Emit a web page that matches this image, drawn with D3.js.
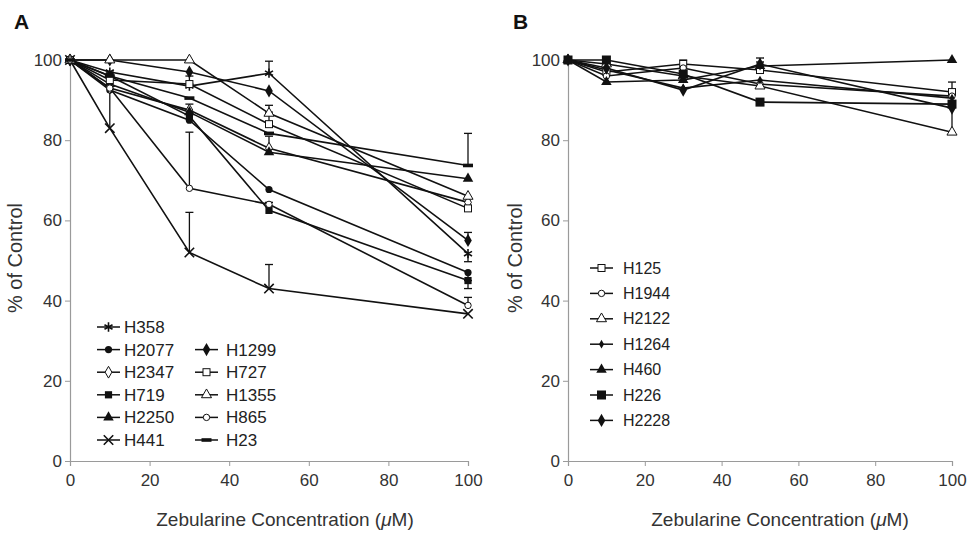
<!DOCTYPE html>
<html>
<head>
<meta charset="utf-8">
<script src="https://cdn.jsdelivr.net/npm/d3@7"></script>
<style>
  body { margin: 0; background: #fff; }
  svg { font-family: "Liberation Sans", Arial, sans-serif; }
</style>
</head>
<body>
<div id="chart"></div>
<script>
// zebularine concentrations (uM) used for every cell line
const concentrations = [0, 10, 30, 50, 100];
const xTicks = [0, 20, 40, 60, 80, 100];
const yTicks = [0, 20, 40, 60, 80, 100];

// panel A: sensitive lines
const namesA = ["H358", "H2077", "H2347", "H719", "H2250", "H441",
  "H1299", "H727", "H1355", "H865", "H23"];
const valuesA = [
  [100, 97, 93.5, 96.7, 51.7],
  [100, 92.5, 85, 67.7, 47],
  [100, 93, 87.5, 78, 64.5],
  [100, 96, 86, 62.5, 45],
  [100, 94, 87, 77, 70.4],
  [100, 83, 52, 43, 36.7],
  [100, 100, 97, 92.3, 55],
  [100, 95, 94, 84, 63],
  [100, 100, 100, 86.7, 66],
  [100, 93, 68, 64, 38.8],
  [100, 96, 90.5, 81.7, 73.7],
];
// one-sided error bars, + is up, - is down
const errorsA = [
  [0, 0, 0, 3, -2],
  [0, 0, 0, 0, -2],
  [0, 0, 0, 3, 0],
  [0, 0, 0, 2, -2],
  [0, 0, 2, 0, 0],
  [0, 14, 10, 6, 0],
  [0, 0, 0, 0, 2],
  [0, 0, 2, 3, 0],
  [0, 0, 0, 2, 0],
  [0, 0, 14, 0, 2],
  [0, 0, 0, 0, 8],
];

// panel B: resistant lines
const namesB = ["H125", "H1944", "H2122", "H1264", "H460", "H226", "H2228"];
const valuesB = [
  [100, 97, 99, 97.5, 92],
  [100, 96, 98, 94, 91],
  [100, 99, 96, 93.5, 82],
  [100, 97.5, 93, 95, 90.5],
  [100, 94.5, 95, 98.5, 100],
  [100, 100, 96.5, 89.5, 89],
  [100, 98, 92.5, 99, 88],
];
const errorsB = [
  [0, 0, 1, 2, 0],
  [0, 0, 0, 0, 0],
  [0, 0, 0, 0, 7],
  [0, 0, 0, 0, 4],
  [0, 0, 0, 0, 0],
  [0, 0, 0, 0, 0],
  [0, 0, 0, 1.5, 0],
];

const markerOf = {
  H358: "asterisk", H2077: "circle", H2347: "diamondOpen", H719: "square",
  H2250: "triangle", H441: "times", H1299: "diamond", H727: "squareOpen",
  H1355: "triangleOpen", H865: "circleOpen", H23: "dash",
  H125: "squareOpen", H1944: "circleOpen", H2122: "triangleOpen",
  H1264: "dot", H460: "triangle", H226: "squareBig", H2228: "diamond",
};

const width = 972, height = 537;

const svg = d3.select("#chart").append("svg")
  .attr("width", width)
  .attr("height", height);

function drawMarker(g, kind) {
  switch (kind) {
    case "asterisk":
      g.append("path").attr("d", d3.symbol(d3.symbolAsterisk, 60)())
        .attr("fill", "none").attr("stroke", "#111").attr("stroke-width", 1.6);
      break;
    case "times":
      g.append("path").attr("d", d3.symbol(d3.symbolTimes, 60)())
        .attr("fill", "none").attr("stroke", "#111").attr("stroke-width", 1.6);
      break;
    case "circle":
      g.append("circle").attr("r", 3.6).attr("fill", "#111");
      break;
    case "circleOpen":
      g.append("circle").attr("r", 3.2).attr("fill", "#fff")
        .attr("stroke", "#111").attr("stroke-width", 1);
      break;
    case "dot":
      g.append("path").attr("d", d3.symbol(d3.symbolDiamond, 22)()).attr("fill", "#111");
      break;
    case "square":
      g.append("rect").attr("x", -3.6).attr("y", -3.6).attr("width", 7.2).attr("height", 7.2)
        .attr("fill", "#111");
      break;
    case "squareBig":
      g.append("rect").attr("x", -4.5).attr("y", -4.5).attr("width", 9).attr("height", 9)
        .attr("fill", "#111");
      break;
    case "squareOpen":
      g.append("rect").attr("x", -3.5).attr("y", -3.5).attr("width", 7).attr("height", 7)
        .attr("fill", "#fff").attr("stroke", "#111").attr("stroke-width", 1);
      break;
    case "triangle":
      g.append("path").attr("d", d3.symbol(d3.symbolTriangle, 48)()).attr("fill", "#111");
      break;
    case "triangleOpen":
      g.append("path").attr("d", d3.symbol(d3.symbolTriangle, 44)())
        .attr("fill", "#fff").attr("stroke", "#111").attr("stroke-width", 1);
      break;
    case "diamond":
      g.append("path").attr("d", d3.symbol(d3.symbolDiamond, 50)()).attr("fill", "#111");
      break;
    case "diamondOpen":
      g.append("path").attr("d", d3.symbol(d3.symbolDiamond, 40)())
        .attr("fill", "#fff").attr("stroke", "#111").attr("stroke-width", 1);
      break;
    case "dash":
      g.append("rect").attr("x", -5).attr("y", -1.8).attr("width", 10).attr("height", 3.6)
        .attr("fill", "#111");
      break;
  }
}

function drawPanel(p) {
  const x = d3.scaleLinear().domain([0, 100]).range([p.left, p.right]);
  const y = d3.scaleLinear().domain([0, 100]).range([461, 60]);

  const g = svg.append("g");

  // axes
  const xAxis = d3.axisBottom(x).tickValues(xTicks).tickSize(5).tickPadding(8);
  const yAxis = d3.axisLeft(y).tickValues(yTicks).tickSize(5).tickPadding(3);

  g.append("g").attr("transform", `translate(0,${y(0)})`).call(xAxis)
    .call((a) => a.select(".domain").attr("stroke", "#9a9a9a").attr("stroke-width", 1.2))
    .call((a) => a.selectAll(".tick line").attr("stroke", "#9a9a9a"))
    .call((a) => a.selectAll(".tick text").attr("fill", "#333").style("font-size", "17px"));

  g.append("g").attr("transform", `translate(${x(0)},0)`).call(yAxis)
    .call((a) => a.select(".domain").attr("stroke", "#9a9a9a").attr("stroke-width", 1.2))
    .call((a) => a.selectAll(".tick line").attr("stroke", "#9a9a9a"))
    .call((a) => a.selectAll(".tick text").attr("fill", "#333").style("font-size", "17px"));

  // titles
  g.append("text")
    .attr("x", p.xTitleX).attr("y", 526)
    .attr("text-anchor", "middle")
    .attr("fill", "#333")
    .style("font-size", "19px")
    .html("Zebularine Concentration (<tspan font-style='italic'>\u03BC</tspan>M)");

  g.append("text")
    .attr("transform", `translate(${p.yTitleX},258) rotate(-90)`)
    .attr("text-anchor", "middle")
    .attr("fill", "#333")
    .style("font-size", "20px")
    .text("% of Control");

  g.append("text")
    .attr("x", p.labelX).attr("y", 29)
    .attr("fill", "#111")
    .style("font-size", "21px")
    .style("font-weight", "bold")
    .text(p.label);

  const line = d3.line().x((d) => x(d.c)).y((d) => y(d.v));

  const series = p.names.map((name, i) => ({
    name: name,
    pts: concentrations.map((c, j) => ({ c: c, v: p.values[i][j], e: p.errors[i][j] })),
  }));

  // error bars
  series.forEach((s) => {
    s.pts.filter((d) => d.e !== 0).forEach((d) => {
      const y1 = y(d.v), y2 = y(d.v + d.e);
      g.append("line").attr("x1", x(d.c)).attr("x2", x(d.c)).attr("y1", y1).attr("y2", y2)
        .attr("stroke", "#111").attr("stroke-width", 1.3);
      g.append("line").attr("x1", x(d.c) - 4).attr("x2", x(d.c) + 4).attr("y1", y2).attr("y2", y2)
        .attr("stroke", "#111").attr("stroke-width", 1.3);
    });
  });

  // lines
  g.selectAll(".series-line")
    .data(series)
    .join("path")
    .attr("class", "series-line")
    .attr("d", (s) => line(s.pts))
    .attr("fill", "none")
    .attr("stroke", "#111")
    .attr("stroke-width", 1.6);

  // markers
  series.forEach((s) => {
    s.pts.forEach((d) => {
      const m = g.append("g").attr("transform", `translate(${x(d.c)},${y(d.v)})`);
      drawMarker(m, markerOf[s.name]);
    });
  });

  // legend
  p.legend.forEach((item) => {
    const lg = g.append("g").attr("transform", `translate(${item.x},${item.y})`);
    lg.append("line").attr("x1", 0).attr("x2", 23).attr("stroke", "#111").attr("stroke-width", 1.5);
    drawMarker(lg.append("g").attr("transform", "translate(11.5,0)"), markerOf[item.name]);
    lg.append("text")
      .attr("x", item.textDx).attr("dy", "0.35em")
      .attr("fill", "#222")
      .style("font-size", p.legendFont)
      .text(item.name);
  });
}

const legendA = namesA.map((name, i) => {
  const col = i < 6 ? 0 : 1;
  const row = i < 6 ? i : i - 5;
  return { name: name, x: 97, y: 327 + row * 22.6, textDx: col === 0 ? 27 : 0 };
}).map((d, i) => (i < 6 ? d : { name: d.name, x: 195, y: d.y, textDx: 31 }));

const legendB = namesB.map((name, i) => ({
  name: name, x: 590, y: 268 + i * 25.4, textDx: 33,
}));

drawPanel({
  label: "A", labelX: 14, left: 70, right: 468, xTitleX: 285, yTitleX: 22,
  names: namesA, values: valuesA, errors: errorsA, legend: legendA, legendFont: "17px",
});

drawPanel({
  label: "B", labelX: 513, left: 568, right: 952, xTitleX: 780, yTitleX: 522,
  names: namesB, values: valuesB, errors: errorsB, legend: legendB, legendFont: "16px",
});
</script>
</body>
</html>
